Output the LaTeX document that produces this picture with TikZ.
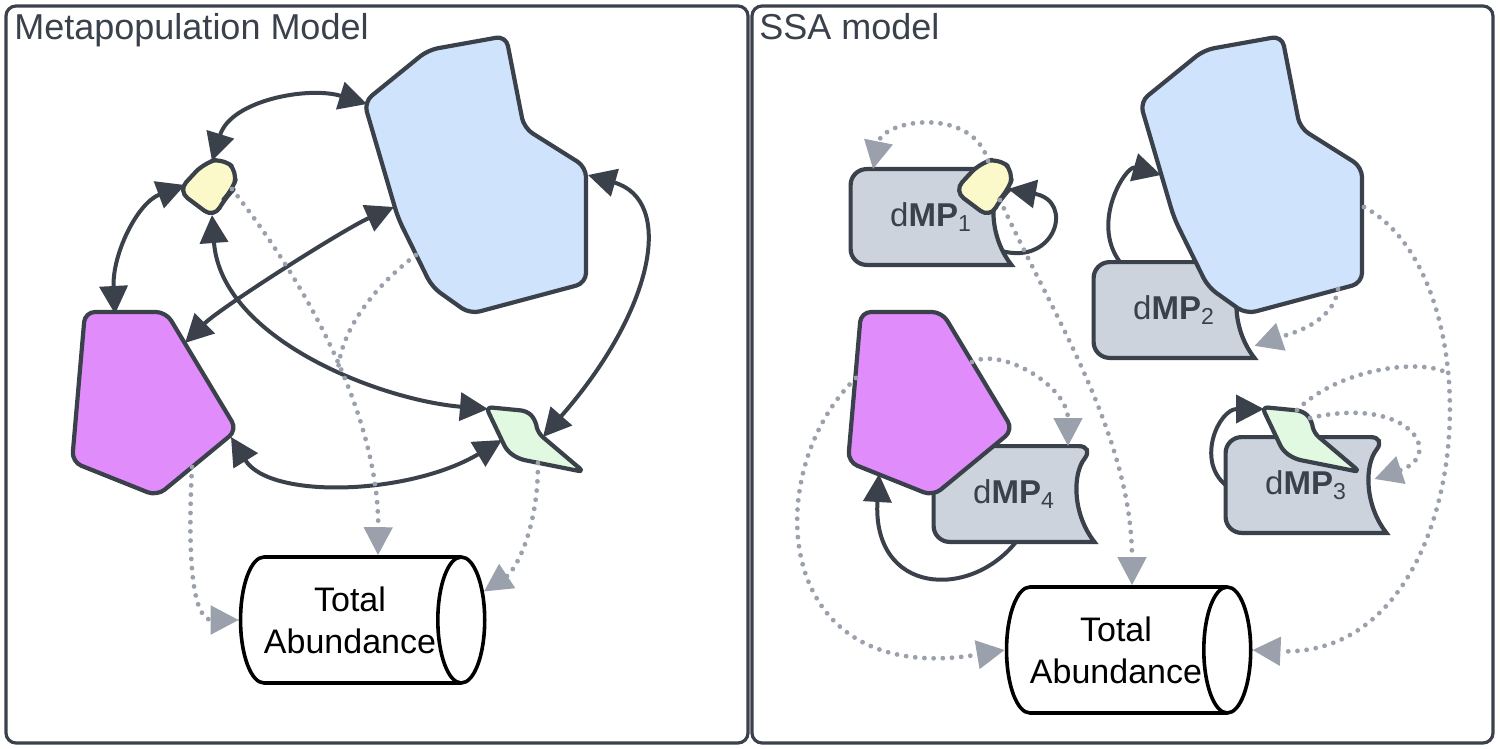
\documentclass[tikz,border=0pt]{standalone}
\usepackage{fontspec}
\setmainfont{Liberation Sans}
\usepackage{tikz}
\usetikzlibrary{arrows.meta,shapes.geometric,backgrounds}

\definecolor{darkline}{HTML}{3A414B}
\definecolor{dotgray}{HTML}{9AA1AC}
\definecolor{blueFill}{HTML}{CFE3FC}
\definecolor{yellowFill}{HTML}{FBF9C9}
\definecolor{magentaFill}{HTML}{E08CFB}
\definecolor{greenFill}{HTML}{E1F8E1}
\definecolor{storeGray}{HTML}{CDD3DC}

\begin{document}
\begin{tikzpicture}[
  x=0.5pt, y=-0.5pt,
  panel/.style={draw=darkline, line width=1.6pt, rounded corners=5pt},
  paneltitle/.style={anchor=base west, inner sep=0pt, text=darkline, font=\fontsize{18}{21}\selectfont},
  patchline/.style={draw=darkline, line width=2.1pt, line join=round, rounded corners=5pt},
  storebox/.style={draw=darkline, line width=2.1pt, fill=storeGray},
  dmplabel/.style={minimum width=80pt, minimum height=47.5pt, inner sep=0pt, text=darkline, font=\fontsize{16.5}{19}\selectfont},
  totalbox/.style={cylinder, shape aspect=0.7, draw=black, line width=1.8pt, fill=white, minimum height=118pt, minimum width=63pt, inner sep=0pt, align=center, font=\fontsize{17}{21}\selectfont},
  link/.style={draw=darkline, line width=2pt, arrows={-Triangle[length=14pt,width=14pt]}},
  twoway/.style={link, arrows={Triangle[length=14pt,width=14pt]-Triangle[length=14pt,width=14pt]}},
  feed/.style={draw=dotgray, line width=2.4pt, line cap=round, dash pattern=on 0pt off 4.6pt, arrows={-Triangle[length=14pt,width=14pt]}},
  feedline/.style={feed, arrows=-},
  % patches, drawn at their place in the left panel
  bluepatch/.pic={
    \draw[patchline, fill=blueFill] (364,102) -- (428,50) -- (506,36) -- (524,128) -- (586,167)
      -- (586,283) -- (470,314) -- (432,287) -- (398,218) -- cycle;
    \coordinate (-nw) at (367,104);
    \coordinate (-wn) at (385,175);
    \coordinate (-w) at (394,207);
    \coordinate (-sw) at (416,255);
    \coordinate (-s) at (562,289);
    \coordinate (-e) at (588,175);
    \coordinate (-ee) at (588,207);
  },
  yellowpatch/.pic={
    \draw[patchline, rounded corners=6pt, fill=yellowFill] (204,163) -- (223,158) -- (238,172) -- (232,191)
      -- (225,198) -- (214,218) -- (178,191) -- cycle;
    \coordinate (-n) at (212,161);
    \coordinate (-w) at (185,185);
    \coordinate (-s) at (212,215);
    \coordinate (-e) at (232,189);
    \coordinate (-se) at (224,200);
  },
  magentapatch/.pic={
    \draw[patchline, fill=magentaFill] (85,312) -- (166,312) -- (237,430) -- (157,496) -- (72,462) -- cycle;
    \coordinate (-n) at (115,314);
    \coordinate (-ne) at (185,343);
    \coordinate (-ne2) at (196,362);
    \coordinate (-e) at (231,437);
    \coordinate (-s) at (192,467);
    \coordinate (-sw) at (103,474);
    \coordinate (-w) at (80,378);
  },
  greenpatch/.pic={
    \draw[patchline, rounded corners=3pt, fill=greenFill] (486,407) -- (527,411) -- (535,419) -- (538,433)
      -- (584,472) -- (519,459) -- (507,451) -- cycle;
    \coordinate (-nw) at (488,409);
    \coordinate (-n) at (543,437);
    \coordinate (-w) at (502,440);
    \coordinate (-s) at (538,463);
    \coordinate (-ne) at (521,410);
    \coordinate (-e) at (534,418);
  }
]
\useasboundingbox (0,0) rectangle (1500,749);

% panels
\draw[panel] (6,6) rectangle (748,743);
\draw[panel] (752,6) rectangle (1493,743);
\node[paneltitle] (metaTitle) at (14,40) {Metapopulation Model};
\node[paneltitle] (ssaTitle) at (759,40) {SSA model};

% Metapopulation Model
\pic (bL) at (0,0) {bluepatch};
\pic (yL) at (0,0) {yellowpatch};
\pic (mL) at (0,0) {magentapatch};
\pic (gL) at (0,0) {greenpatch};
\node[totalbox] (totL) at (350,620) {Total\\Abundance};

\draw[twoway] (yL-n) .. controls +(19,-61) and +(-58,-18) .. (bL-nw);
\draw[twoway] (yL-w) .. controls +(-48,18) and +(-3,-59) .. (mL-n);
\draw[twoway] (bL-w) .. controls +(-50,22) and +(35,-35) .. (mL-ne);
\draw[twoway] (yL-s) .. controls +(9,124) and +(-108,-9) .. (gL-nw);
\draw[twoway] (bL-e) .. controls +(87,25) and +(112,-128) .. (gL-n);
\draw[twoway] (mL-e) .. controls +(39,63) and +(-92,55) .. (gL-w);

\draw[feed] (yL-e) .. controls +(88,112) and +(1,-127) .. ([xshift=14pt]totL.north) coordinate[pos=0.5] (mergeL);
\draw[feedline] (bL-sw) .. controls +(-40,30) and +(5,-40) .. (mergeL);
\draw[feed] (mL-s) .. controls +(-5,100) and +(-45,0) .. (totL.west);
\draw[feed] (gL-s) .. controls +(0,70) and +(30,-20) .. (totL.12);

% SSA model
\node[dmplabel] (dmp1) at (931,217) {d\textbf{MP}\textsubscript{1}};
\node[dmplabel] (dmp2) at (1174,310) {d\textbf{MP}\textsubscript{2}};
\node[dmplabel] (dmp3) at (1306,485) {d\textbf{MP}\textsubscript{3}};
\node[dmplabel] (dmp4) at (1014,494) {d\textbf{MP}\textsubscript{4}};
\begin{scope}[on background layer]
  \foreach \d in {dmp1,dmp2,dmp3,dmp4}
    \draw[storebox] (\d.north east) .. controls +(-22,28) and +(-22,-28) .. (\d.south east)
      [rounded corners=8pt] -- (\d.south west) -- (\d.north west) -- cycle;
\end{scope}

\pic (bR) at (776,0) {bluepatch};
\pic (yR) at (776,0) {yellowpatch};
\pic (mR) at (776,0) {magentapatch};
\pic (gR) at (776,0) {greenpatch};
\node[totalbox] (totR) at (1116,650) {Total\\Abundance};

\draw[link] ([xshift=-5pt,yshift=7pt]dmp1.south east) .. controls +(54,15) and +(67,12) .. (yR-e);
\draw[link] ([xshift=-27pt]dmp2.north) .. controls +(-30,-40) and +(-35,-10) .. (bR-wn);
\draw[link] (dmp3.west) .. controls +(-30,-25) and +(-45,0) .. (gR-nw);
\draw[link] ([xshift=1pt]dmp4.south) .. controls +(-46,58) and +(-7,121) .. (mR-sw);

\draw[feed] (yR-n) .. controls +(-15,-55) and +(10,-50) .. ([xshift=-29pt]dmp1.north);
\draw[feed] (yR-se) .. controls +(50,110) and +(0,-150) .. ([xshift=8pt]totR.north);
\draw[feed] (bR-s) .. controls +(-5,35) and +(35,-12) .. ([yshift=6pt]dmp2.south east);
\draw[feed] (bR-ee) .. controls +(136,73) and +(224,10) .. (totR.east) coordinate[pos=0.36] (mergeR);
\draw[feedline] (gR-ne) .. controls +(40,-40) and +(-30,-15) .. (mergeR);
\draw[feed] (gR-e) .. controls +(100,-23) and +(71,-24) .. ([xshift=-6pt,yshift=3pt]dmp3.east);
\draw[feed] (mR-ne2) .. controls +(30,-15) and +(0,-60) .. ([xshift=27pt]dmp4.north);
\draw[feed] (mR-w) .. controls +(-96,92) and +(-236,40) .. (totR.west);
\end{tikzpicture}
\end{document}
